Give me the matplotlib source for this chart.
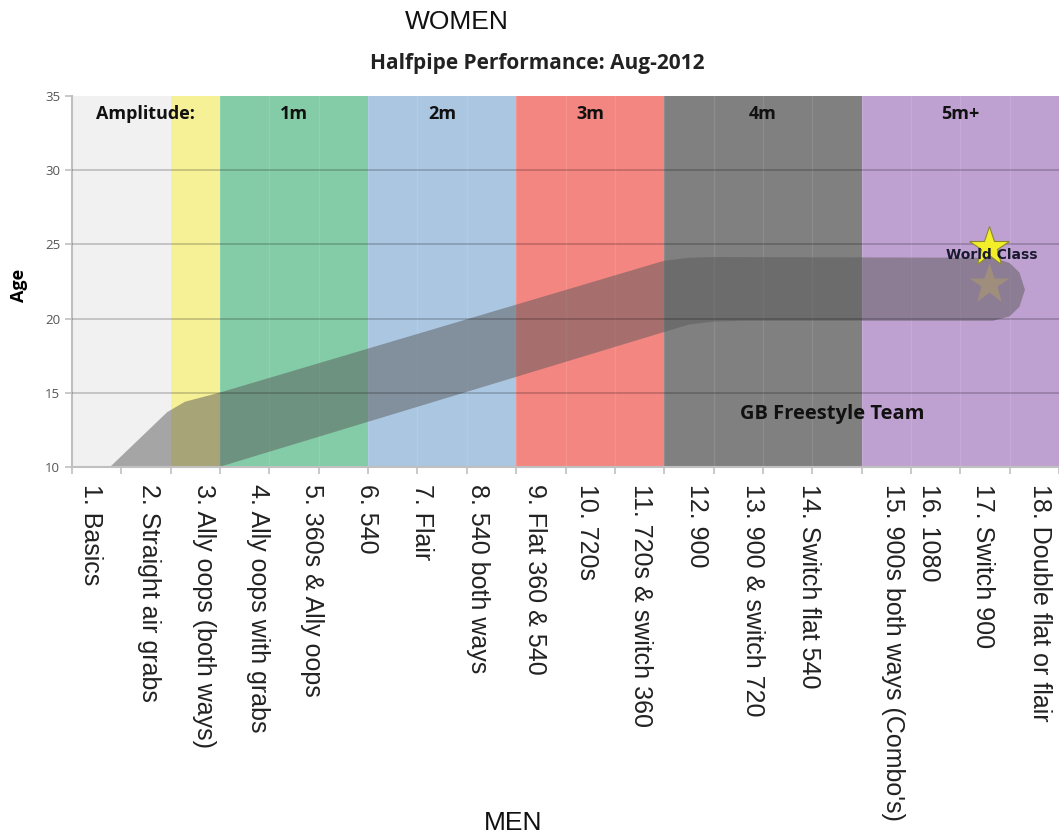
import matplotlib.pyplot as plt
from matplotlib.patches import Polygon
from matplotlib.ticker import MultipleLocator

# amplitude bands along the trick scale
band_edges = [0, 2, 3, 6, 9, 12, 16, 20]
band_names = ["", "", "1m", "2m", "3m", "4m", "5m+"]
band_colors = ["#f0f1f0", "#f6f097", "#84cca7", "#abc6e1", "#f38681", "#808080", "#bfa1d1"]

tricks = [
    "1. Basics", "2. Straight air grabs", "3. Ally oops (both ways)",
    "4. Ally oops with grabs", "5. 360s & Ally oops", "6. 540", "7. Flair",
    "8. 540 both ways", "9. Flat 360 & 540", "10. 720s", "11. 720s & switch 360",
    "12. 900", "13. 900 & switch 720", "14. Switch flat 540",
    "15. 900s both ways (Combo's)", "16. 1080", "17. Switch 900",
    "18. Double flat or flair",
]
trick_x = [0.39, 1.56, 2.67, 3.77, 4.86, 5.98, 7.09, 8.23, 9.38, 10.44,
           11.53, 12.66, 13.8, 14.93, 16.64, 17.37, 18.46, 19.61]

# GB Freestyle Team pathway (age vs trick level), traced outline
upper_x = [0.77, 1.93, 2.29, 2.98, 12.0, 12.5, 13.0, 18.66]
upper_y = [10.0, 13.7, 14.4, 15.0, 23.9, 24.1, 24.15, 24.1]
cap_x = [19.0, 19.2, 19.31, 19.2, 19.0]
cap_y = [23.75, 23.1, 21.95, 20.8, 20.15]
lower_x = [18.66, 13.6, 13.0, 12.5, 12.0, 2.98]
lower_y = [19.85, 19.85, 19.8, 19.6, 19.1, 10.0]

star_x, star_y = 18.58, 24.85
shadow_y = 22.3

fig = plt.figure(figsize=(10.59, 8.36), dpi=100)
ax = fig.add_axes([72 / 1059, 1 - 467 / 836, 987 / 1059, 371 / 836])

for i, c in enumerate(band_colors):
    ax.axvspan(band_edges[i], band_edges[i + 1], color=c, lw=0, zorder=0)
    if band_names[i]:
        ax.text((band_edges[i] + band_edges[i + 1]) / 2, 33.8, band_names[i],
                ha="center", va="center", fontsize=13, fontweight="bold",
                family="Open Sans", color="#111111", zorder=5)
ax.text(1.48, 33.8, "Amplitude:", ha="center", va="center", fontsize=13,
        fontweight="bold", family="Open Sans", color="#111111", zorder=5)

# faint column lines and horizontal grid
for x in range(1, 20):
    ax.axvline(x, color="white", alpha=0.1, lw=1, zorder=1)
for y in [15, 20, 25, 30]:
    ax.axhline(y, color="black", alpha=0.2, lw=1.3, zorder=3)

pts = list(zip(upper_x, upper_y)) + list(zip(cap_x, cap_y)) + list(zip(lower_x, lower_y))
ax.add_patch(Polygon(pts, closed=True, facecolor="#5a5a5a", alpha=0.5, lw=0, zorder=2))

ax.plot(star_x, shadow_y, marker="*", ms=30, color="#c8b050", alpha=0.35, mec="none", zorder=4)
ax.plot(star_x, star_y, marker="*", ms=30, color="#f2ee2a", mec="#8c8a30", mew=0.8, zorder=4)
ax.text(18.64, 24.3, "World Class", ha="center", va="center", fontsize=10,
        fontweight="bold", color="#1a1a2e", zorder=6)
ax.text(15.4, 13.6, "GB Freestyle Team", ha="center", va="center", fontsize=14.5,
        fontweight="bold", family="Open Sans", color="#111111", zorder=6)

ax.set_xlim(0, 20)
ax.set_ylim(10, 35)
ax.yaxis.set_major_locator(MultipleLocator(5))
ax.xaxis.set_minor_locator(MultipleLocator(1))
ax.set_xticks(trick_x, labels=tricks, rotation=-90, va="top", ha="center",
              fontsize=18, family="Liberation Sans", color="#222222")
ax.tick_params(axis="x", which="major", length=0, pad=12)
ax.tick_params(axis="x", which="minor", length=5, color="#c0c0c0", width=1.2)
ax.tick_params(axis="y", length=5, color="#c0c0c0", width=1.2, labelsize=9.5,
               labelcolor="#555555")
for lab in ax.get_yticklabels():
    lab.set_family("Open Sans")
for s in ["top", "right"]:
    ax.spines[s].set_visible(False)
for s in ["left", "bottom"]:
    ax.spines[s].set_color("#c0c0c0")
    ax.spines[s].set_linewidth(1.5)

ax.set_ylabel("Age", fontsize=13, fontweight="bold", family="Open Sans")
ax.yaxis.set_label_coords(-44 / 987, 0.49)

fig.text(457 / 1059, 1 - 22 / 836, "WOMEN", ha="center", va="center",
         fontsize=19, family="Liberation Sans", color="#111111")
fig.text(537 / 1059, 1 - 63 / 836, "Halfpipe Performance: Aug-2012", ha="center",
         va="center", fontsize=15, fontweight="bold", family="Open Sans", color="#222222")
fig.text(513 / 1059, 1 / 836, "MEN", ha="center", va="bottom",
         fontsize=19, family="Liberation Sans", color="#111111")

fig.savefig("out.png", dpi=100)
